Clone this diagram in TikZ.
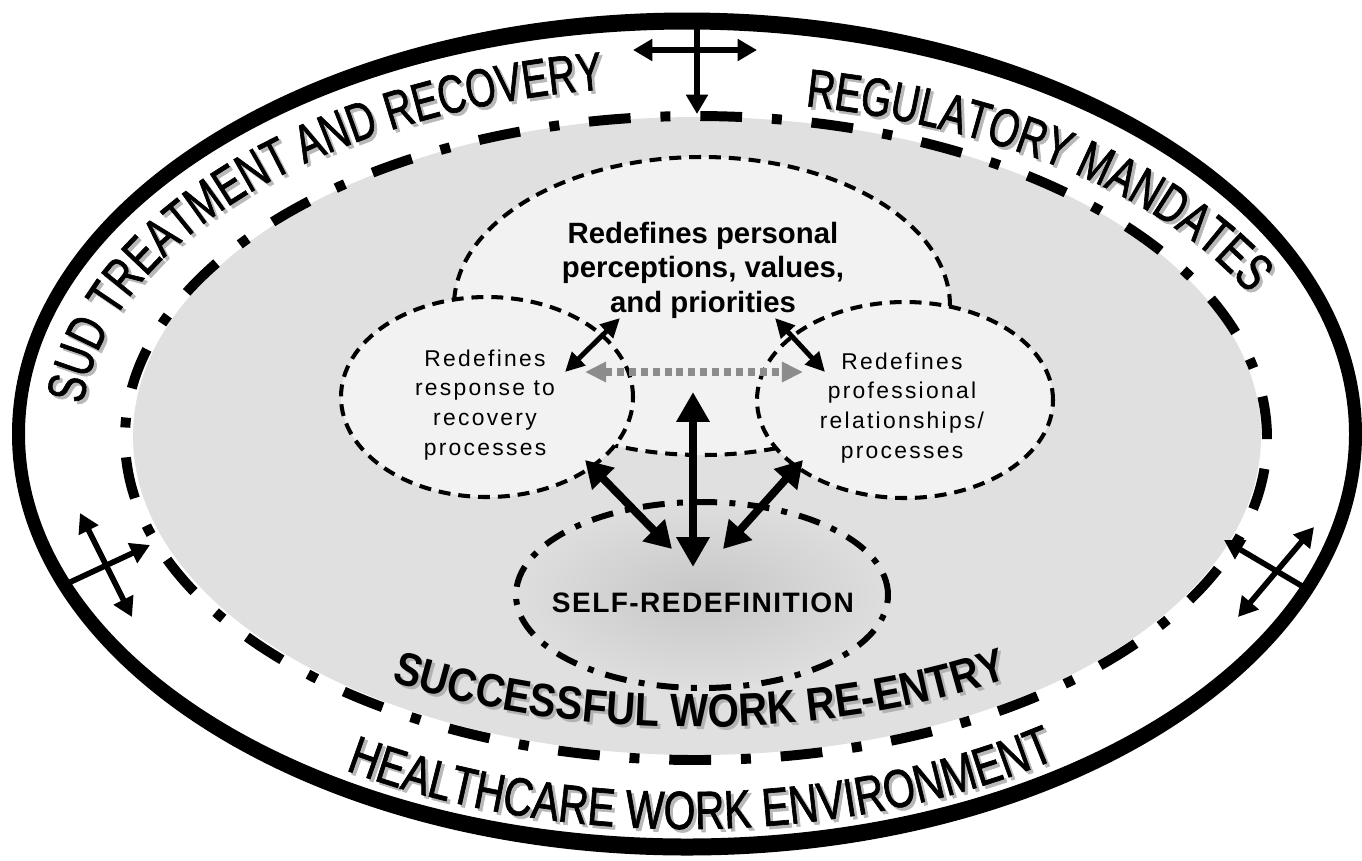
\documentclass[tikz,border=0pt]{standalone}
\usepackage{fontspec}
\setmainfont{Liberation Sans}
\usetikzlibrary{arrows.meta,decorations.text}
\newfontfamily\ringfam[FakeStretch=0.72,FakeBold=1.2]{Liberation Sans}
\newfontfamily\ringwidefam[FakeStretch=0.76,FakeBold=1.2]{Liberation Sans}
\newfontfamily\succfam[FakeStretch=0.86]{Liberation Sans}
\newfontfamily\spacedfam[LetterSpace=10]{Liberation Sans}
\newfontfamily\selffam[LetterSpace=5]{Liberation Sans}
\newcommand\ringstyle{\ringfam\fontsize{30.6}{30.6}\selectfont}
\newcommand\ringshade{\ringfam\fontsize{30.6}{30.6}\selectfont\color{black!28}}
\newcommand\ringwidestyle{\ringwidefam\fontsize{30.6}{30.6}\selectfont}
\newcommand\ringwideshade{\ringwidefam\fontsize{30.6}{30.6}\selectfont\color{black!28}}
\newcommand\succstyle{\succfam\bfseries\fontsize{26.6}{26.6}\selectfont}
\newcommand\succshade{\succfam\bfseries\fontsize{26.6}{26.6}\selectfont\color{black!30}}
\definecolor{bggray}{gray}{0.88}
\definecolor{lightfill}{gray}{0.95}
\definecolor{selfinner}{gray}{0.78}
\definecolor{selfouter}{gray}{0.87}
\definecolor{arrowgray}{gray}{0.55}
\begin{document}
\begin{tikzpicture}[x=0.02cm, y=0.02cm,
  bigdashdot/.style={line width=5.67pt, dash pattern=on 23.8pt off 17pt on 5.67pt off 17pt},
  smalldash/.style={line width=2.3pt, dash pattern=on 6.8pt off 4.5pt},
  selfdashdot/.style={line width=3.4pt, dash pattern=on 12.5pt off 7pt on 3.4pt off 7pt},
  thinarrow/.style={line width=2.8pt, {Triangle[length=11pt,width=10.5pt]}-{Triangle[length=11pt,width=10.5pt]}},
  thickarrow/.style={line width=4.5pt, {Triangle[length=17pt,width=18pt]}-{Triangle[length=17pt,width=18pt]}},
  diagarrow/.style={line width=4.5pt, {Triangle[length=15pt,width=17pt]}-{Triangle[length=15pt,width=17pt]}},
  grayarrow/.style={draw=arrowgray, line width=4.2pt, dash pattern=on 4pt off 2.8pt, {Triangle[length=12pt,width=11pt]}-{Triangle[length=12pt,width=11pt]}},
  crossdouble/.style={line width=3.2pt, {Triangle[length=11pt,width=12pt]}-{Triangle[length=11pt,width=12pt]}},
  crosssingle/.style={line width=3.2pt, -{Triangle[length=11pt,width=12pt]}},
  innertext/.style={align=center, inner sep=0pt}
]
\fill[white] (0,0) rectangle (1362,-860);
\useasboundingbox (0,0) rectangle (1362,-860);

% big gray region and dash-dot boundary
\fill[bggray] (697,-436) ellipse [x radius=564, y radius=319];
\draw[bigdashdot] (696,-438) ellipse [x radius=571, y radius=322];

% outer ring
\fill[black, even odd rule] (687,-434) ellipse [x radius=675, y radius=421.5]
                            (687,-434) ellipse [x radius=662, y radius=404.5];

% cloud of three dashed ellipses
\filldraw[fill=lightfill, smalldash] (702,-306) ellipse [x radius=248, y radius=149];
\filldraw[fill=lightfill, smalldash] (487,-397) ellipse [x radius=146, y radius=100];
\filldraw[fill=lightfill, smalldash] (905,-400) ellipse [x radius=148, y radius=98];

% self-redefinition ellipse
\shade[inner color=selfinner, outer color=selfouter] (702,-595) ellipse [x radius=186, y radius=93];
\draw[selfdashdot] (702,-595) ellipse [x radius=186, y radius=93];

% inner texts
\node[innertext, font=\bfseries\fontsize{16.7}{19.6}\selectfont] (ttop) at (703,-270)
  {Redefines personal\\perceptions, values,\\and priorities};
\node[innertext, font=\spacedfam\fontsize{13}{17}\selectfont] (tleft) at (485,-405)
  {Redefines\\response to\\recovery\\processes};
\node[innertext, font=\spacedfam\fontsize{13}{17}\selectfont] (tright) at (902,-408)
  {Redefines\\professional\\relationships/\\processes};
\node[innertext, font=\selffam\bfseries\fontsize{16}{16}\selectfont] (tself) at (703,-603)
  {SELF-REDEFINITION};

% curved ring texts (soft shadow first, then the text)
\path[shift={(3,-3)}, decorate, decoration={text along path, text align=center,
  text={|\ringshade|SUD TREATMENT AND RECOVERY}}]
  (687,-434) ++(182:606 and 348) arc[start angle=182, end angle=94, x radius=606, y radius=348];
\path[decorate, decoration={text along path, text align=center,
  text={|\ringstyle|SUD TREATMENT AND RECOVERY}}]
  (687,-434) ++(182:606 and 348) arc[start angle=182, end angle=94, x radius=606, y radius=348];

\path[shift={(3,-3)}, decorate, decoration={text along path, text align=center,
  text={|\ringshade|REGULATORY MANDATES}}]
  (687,-434) ++(82:619 and 334) arc[start angle=82, end angle=20, x radius=619, y radius=334];
\path[decorate, decoration={text along path, text align=center,
  text={|\ringstyle|REGULATORY MANDATES}}]
  (687,-434) ++(82:619 and 334) arc[start angle=82, end angle=20, x radius=619, y radius=334];

\path[shift={(3,-3)}, decorate, decoration={text along path, text align=center,
  text={|\ringwideshade|HEALTHCARE WORK ENVIRONMENT}}]
  (687,-434) ++(234:650 and 395) arc[start angle=234, end angle=309, x radius=650, y radius=395];
\path[decorate, decoration={text along path, text align=center,
  text={|\ringwidestyle|HEALTHCARE WORK ENVIRONMENT}}]
  (687,-434) ++(234:650 and 395) arc[start angle=234, end angle=309, x radius=650, y radius=395];

\path[shift={(3,-3)}, decorate, decoration={text along path, text align=center,
  text={|\succshade|SUCCESSFUL WORK RE-ENTRY}}]
  (696,-438) ++(233:565 and 289) arc[start angle=233, end angle=308, x radius=565, y radius=289];
\path[decorate, decoration={text along path, text align=center,
  text={|\succstyle|SUCCESSFUL WORK RE-ENTRY}}]
  (696,-438) ++(233:565 and 289) arc[start angle=233, end angle=308, x radius=565, y radius=289];

% arrow end points
\coordinate (ulA) at (620,-318); \coordinate (ulB) at (565,-372);
\coordinate (urA) at (775,-318); \coordinate (urB) at (825,-372);
\coordinate (gA) at (585,-372);  \coordinate (gB) at (803,-372);
\coordinate (vA) at (693,-392);  \coordinate (vB) at (693,-567);
\coordinate (llA) at (585,-460); \coordinate (llB) at (672,-549);
\coordinate (lrA) at (803,-460); \coordinate (lrB) at (723,-549);
\coordinate (tcOut) at (697,-21); \coordinate (tcIn) at (697,-114);
\coordinate (tcL) at (633,-50);   \coordinate (tcR) at (757,-50);
\coordinate (lcOut) at (64,-585); \coordinate (lcIn) at (150,-545);
\coordinate (lcA) at (80,-513);   \coordinate (lcB) at (132,-617);
\coordinate (rcOut) at (1307,-589); \coordinate (rcIn) at (1224,-540);
\coordinate (rcA) at (1314,-527); \coordinate (rcB) at (1238,-617);

% central arrows
\draw[thinarrow] (ulA) -- (ulB);
\draw[thinarrow] (urA) -- (urB);
\draw[grayarrow] (gA) -- (gB);
\draw[thickarrow] (vA) -- (vB);
\draw[diagarrow] (llA) -- (llB);
\draw[diagarrow] (lrA) -- (lrB);

% boundary crossing arrows
\draw[crosssingle] (tcOut) -- (tcIn);
\draw[crossdouble] (tcL) -- (tcR);
\draw[crosssingle] (lcOut) -- (lcIn);
\draw[crossdouble] (lcA) -- (lcB);
\draw[crosssingle] (rcOut) -- (rcIn);
\draw[crossdouble] (rcA) -- (rcB);
\end{tikzpicture}
\end{document}
